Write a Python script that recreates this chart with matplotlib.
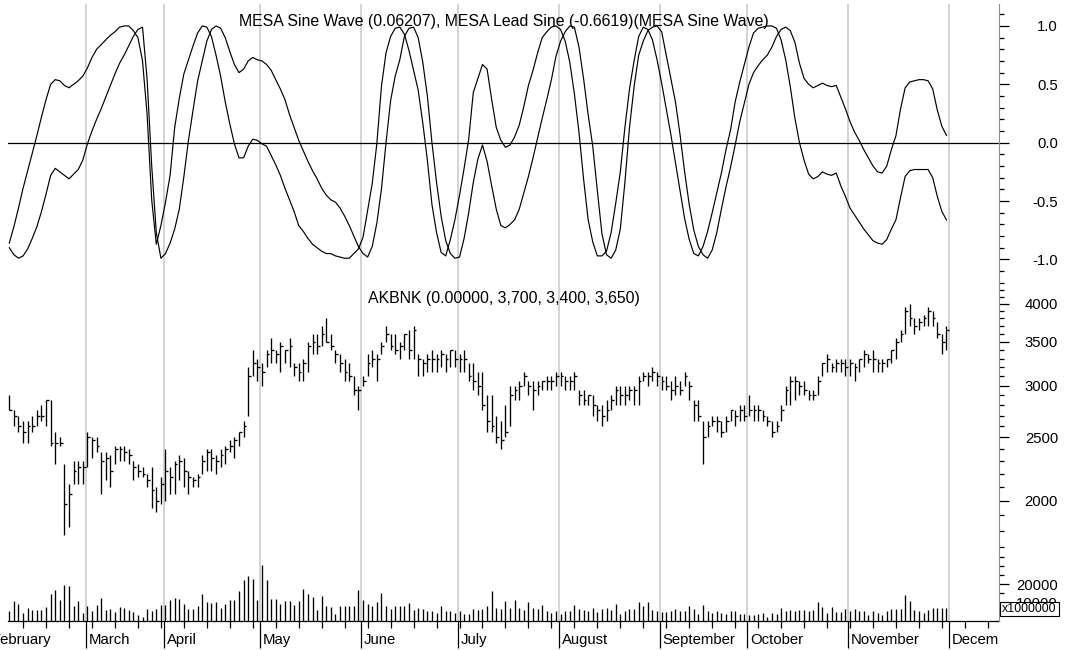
"""AKBNK daily bars with MESA sine wave / lead sine and volume, Feb-Nov."""

import matplotlib

matplotlib.use("Agg")
import matplotlib.pyplot as plt
from matplotlib.patches import Rectangle
from matplotlib.ticker import FixedFormatter, FixedLocator, NullFormatter
from matplotlib.transforms import Bbox, TransformedBbox
import numpy as np

plt.rcParams["font.family"] = ["Liberation Sans", "DejaVu Sans"]

# ---------------------------------------------------------------- data
TICKER = "AKBNK"
month_names = ["February", "March", "April", "May", "June", "July", "August",
               "September", "October", "November", "December"]
# index of the first bar of each month (February is partial, December empty)
month_first_bar = [0, 17, 34, 55, 77, 98, 120, 142, 161, 183, 205]

mesa_sine = [
    -0.90, -0.96, -0.99, -0.97, -0.91, -0.82, -0.72, -0.59, -0.44, -0.28,
    -0.22, -0.25, -0.28, -0.31, -0.27, -0.23, -0.15, -0.01, 0.10, 0.20,
    0.29, 0.39, 0.49, 0.59, 0.68, 0.75, 0.83, 0.91, 0.97, 0.99,
    0.54, -0.20, -0.77, -0.99, -0.95, -0.86, -0.74, -0.57, -0.29, 0.02,
    0.28, 0.53, 0.70, 0.87, 0.97, 1.00, 0.98, 0.90, 0.78, 0.67,
    0.60, 0.63, 0.70, 0.73, 0.71, 0.70, 0.67, 0.62, 0.54, 0.46,
    0.37, 0.24, 0.13, 0.02, -0.07, -0.16, -0.24, -0.31, -0.39, -0.45,
    -0.49, -0.51, -0.56, -0.63, -0.71, -0.80, -0.89, -0.95, -0.98, -0.89,
    -0.69, -0.40, 0.00, 0.36, 0.57, 0.71, 0.91, 0.98, 0.99, 0.90,
    0.69, 0.40, 0.00, -0.34, -0.63, -0.84, -0.95, -0.99, -0.98, -0.82,
    -0.60, -0.34, -0.14, -0.02, -0.16, -0.37, -0.57, -0.71, -0.73, -0.70,
    -0.66, -0.57, -0.43, -0.29, -0.13, 0.04, 0.21, 0.37, 0.54, 0.74,
    0.87, 0.95, 1.00, 0.99, 0.82, 0.55, 0.24, -0.03, -0.41, -0.78,
    -0.96, -0.99, -0.92, -0.74, -0.34, 0.13, 0.48, 0.75, 0.87, 0.96,
    0.99, 1.00, 0.95, 0.75, 0.55, 0.35, 0.07, -0.25, -0.53, -0.75,
    -0.89, -0.96, -0.99, -0.92, -0.77, -0.57, -0.38, -0.21, -0.02, 0.18,
    0.34, 0.50, 0.60, 0.66, 0.71, 0.75, 0.82, 0.91, 0.97, 0.99,
    0.96, 0.86, 0.68, 0.55, 0.50, 0.47, 0.49, 0.51, 0.49, 0.48,
    0.49, 0.39, 0.29, 0.18, 0.09, 0.02, -0.06, -0.13, -0.20, -0.25,
    -0.26, -0.20, -0.06, 0.06, 0.29, 0.47, 0.52, 0.53, 0.54, 0.54,
    0.53, 0.46, 0.28, 0.14, 0.06207,
]
mesa_lead = [
    -0.86, -0.72, -0.56, -0.39, -0.24, -0.09, 0.06, 0.22, 0.37, 0.50,
    0.54, 0.53, 0.49, 0.47, 0.50, 0.53, 0.57, 0.64, 0.73, 0.80,
    0.84, 0.88, 0.92, 0.95, 0.99, 1.00, 1.00, 0.96, 0.90, 0.70,
    0.24, -0.49, -0.87, -0.71, -0.51, -0.28, 0.13, 0.38, 0.59, 0.71,
    0.83, 0.94, 1.00, 0.99, 0.91, 0.75, 0.57, 0.35, 0.16, -0.01,
    -0.13, -0.13, -0.03, 0.03, 0.02, -0.01, -0.03, -0.11, -0.19, -0.28,
    -0.39, -0.49, -0.59, -0.71, -0.76, -0.82, -0.87, -0.90, -0.93, -0.95,
    -0.95, -0.97, -0.98, -0.99, -0.99, -0.95, -0.91, -0.81, -0.58, -0.35,
    -0.01, 0.48, 0.77, 0.91, 0.98, 0.99, 0.93, 0.79, 0.62, 0.45,
    0.17, -0.15, -0.53, -0.77, -0.94, -0.97, -0.83, -0.66, -0.45, -0.22,
    0.03, 0.43, 0.55, 0.67, 0.63, 0.37, 0.13, 0.02, -0.04, -0.02,
    0.05, 0.15, 0.31, 0.49, 0.62, 0.77, 0.90, 0.95, 0.99, 1.00,
    0.97, 0.87, 0.69, 0.42, 0.09, -0.31, -0.66, -0.85, -0.97, -0.97,
    -0.93, -0.77, -0.52, -0.25, 0.13, 0.46, 0.70, 0.91, 0.99, 0.97,
    0.88, 0.71, 0.51, 0.29, 0.07, -0.17, -0.41, -0.65, -0.83, -0.95,
    -0.97, -0.89, -0.76, -0.60, -0.43, -0.26, -0.06, 0.11, 0.35, 0.52,
    0.67, 0.82, 0.94, 0.98, 0.99, 1.00, 1.00, 0.98, 0.88, 0.71,
    0.48, 0.21, 0.00, -0.15, -0.27, -0.31, -0.29, -0.25, -0.27, -0.28,
    -0.26, -0.37, -0.46, -0.56, -0.62, -0.68, -0.74, -0.79, -0.84, -0.86,
    -0.87, -0.83, -0.74, -0.66, -0.47, -0.29, -0.24, -0.23, -0.23, -0.23,
    -0.23, -0.30, -0.46, -0.59, -0.6619,
]

# daily high / low / close, one row per month (Feb ... Nov)
high = [
    2900, 2750, 2700, 2650, 2650, 2700, 2750, 2800, 2850, 2850, 2550, 2500, 2275, 2125, 2300, 2300, 2300,
    2550, 2500, 2500, 2375, 2375, 2350, 2425, 2425, 2425, 2400, 2300, 2275, 2250, 2200, 2250, 2100, 2175,
    2400, 2250, 2300, 2350, 2325, 2225, 2175, 2200, 2350, 2400, 2400, 2350, 2400, 2425, 2475, 2500, 2550,
    2650, 3200, 3400, 3300,
    3250, 3400, 3550, 3400, 3500, 3400, 3550, 3250, 3250, 3300, 3500, 3600, 3600, 3700, 3800, 3600, 3400,
    3350, 3300, 3250, 3100, 3000,
    3100, 3350, 3400, 3350, 3500, 3700, 3600, 3600, 3500, 3600, 3650, 3700, 3350, 3300, 3350, 3400, 3350,
    3400, 3350, 3400, 3400,
    3350, 3400, 3250, 3250, 3150, 3150, 2900, 2900, 2700, 2650, 2800, 3000, 3000, 3050, 3150, 3050, 3050,
    3050, 3050, 3100, 3100, 3150,
    3150, 3100, 3100, 3150, 2950, 2950, 2900, 2900, 2800, 2800, 2850, 2900, 3000, 3000, 3000, 3000, 3000,
    3100, 3150, 3150, 3200, 3150,
    3100, 3100, 3050, 3100, 3050, 3150, 3050, 2850, 2850, 2650, 2650, 2700, 2700, 2650, 2700, 2750, 2750,
    2800, 2800,
    2900, 2800, 2800, 2750, 2700, 2650, 2650, 2800, 3000, 3100, 3100, 3050, 3050, 2950, 2950, 3100, 3250,
    3350, 3250, 3300, 3300, 3300,
    3300, 3250, 3300, 3400, 3350, 3400, 3300, 3300, 3300, 3400, 3550, 3650, 3950, 4000, 3800, 3800, 3850,
    3950, 3900, 3750, 3600, 3700,
]
low = [
    2750, 2600, 2550, 2450, 2450, 2550, 2600, 2650, 2600, 2425, 2275, 2425, 1775, 1825, 2125, 2125, 2125,
    2250, 2325, 2375, 2050, 2150, 2100, 2275, 2300, 2300, 2275, 2150, 2175, 2175, 2100, 1950, 1925, 1975,
    2000, 2050, 2050, 2150, 2100, 2050, 2100, 2100, 2200, 2225, 2225, 2200, 2250, 2275, 2375, 2325, 2425,
    2500, 2700, 3100, 3050,
    3000, 3200, 3250, 3250, 3150, 3250, 3200, 3100, 3050, 3050, 3150, 3350, 3350, 3450, 3500, 3400, 3250,
    3150, 3050, 3050, 2900, 2750,
    3000, 3100, 3200, 3050, 3350, 3500, 3400, 3350, 3300, 3400, 3300, 3300, 3100, 3100, 3150, 3150, 3150,
    3200, 3150, 3200, 3200,
    3150, 3150, 3050, 2950, 2900, 2750, 2550, 2550, 2450, 2400, 2500, 2600, 2850, 2850, 3000, 2900, 2750,
    2900, 2950, 2950, 2950, 3000,
    3000, 2950, 2950, 2950, 2800, 2800, 2800, 2700, 2650, 2600, 2650, 2750, 2800, 2800, 2800, 2850, 2800,
    2800, 3050, 3000, 3050, 3000,
    2950, 2950, 2850, 2900, 2900, 3000, 2850, 2650, 2650, 2275, 2500, 2600, 2550, 2500, 2550, 2650, 2600,
    2650, 2650,
    2700, 2650, 2650, 2650, 2600, 2500, 2550, 2650, 2800, 2800, 2850, 2900, 2900, 2850, 2850, 2900, 3100,
    3150, 3150, 3150, 3150, 3100,
    3100, 3050, 3150, 3200, 3250, 3150, 3150, 3150, 3200, 3250, 3300, 3500, 3600, 3700, 3600, 3650, 3700,
    3700, 3700, 3550, 3350, 3400,
]
close = [
    2750, 2700, 2600, 2550, 2600, 2600, 2700, 2700, 2850, 2450, 2450, 2450, 1975, 2050, 2225, 2250, 2250,
    2500, 2475, 2425, 2300, 2325, 2225, 2400, 2400, 2375, 2350, 2250, 2225, 2200, 2150, 2075, 2000, 2125,
    2225, 2175, 2275, 2300, 2225, 2175, 2150, 2175, 2300, 2375, 2325, 2300, 2350, 2400, 2425, 2475, 2550,
    2600, 3100, 3250, 3200,
    3150, 3350, 3400, 3350, 3450, 3400, 3450, 3200, 3150, 3250, 3450, 3500, 3450, 3600, 3500, 3450, 3350,
    3250, 3150, 3100, 2950, 2950,
    3050, 3250, 3300, 3300, 3450, 3600, 3450, 3400, 3450, 3600, 3400, 3650, 3300, 3250, 3300, 3300, 3300,
    3350, 3300, 3400, 3300,
    3300, 3300, 3100, 3050, 3000, 2800, 2650, 2600, 2500, 2475, 2550, 2900, 2950, 3000, 3100, 3000, 2950,
    3000, 3050, 3050, 3050, 3100,
    3100, 3050, 3050, 3100, 2900, 2850, 2900, 2800, 2750, 2700, 2750, 2850, 2950, 2900, 2900, 2950, 2950,
    3050, 3100, 3100, 3150, 3100,
    3050, 3000, 2950, 3000, 2950, 3100, 3000, 2800, 2700, 2500, 2600, 2650, 2650, 2550, 2650, 2750, 2700,
    2750, 2700,
    2750, 2750, 2750, 2700, 2650, 2550, 2600, 2750, 2950, 3050, 3050, 3000, 2950, 2900, 2900, 3050, 3250,
    3300, 3200, 3250, 3250, 3200,
    3250, 3200, 3300, 3350, 3300, 3300, 3250, 3250, 3300, 3400, 3500, 3600, 3900, 3800, 3700, 3750, 3800,
    3900, 3800, 3600, 3500, 3650,
]
# volume in units of 1,000,000 shares
volume = [
    5200, 10800, 9500, 4300, 7100, 6200, 6000, 5800, 7500, 14500, 17000, 11700, 19800, 19200, 8400, 10800, 4300,
    8400, 5600, 8600, 12700, 6200, 6500, 4800, 7500, 7100, 6200, 5000, 3400, 2000, 6500, 5600, 6500, 8900,
    8900, 11200, 12700, 12100, 9500, 6500, 6500, 8000, 14500, 10300, 9900, 10300, 7000, 9500, 11700, 11700,
    16400, 22400, 24400, 22900, 11700,
    30400, 22400, 12100, 12100, 9300, 10800, 10800, 8900, 10800, 17700, 14500, 13200, 6200, 13600, 8000, 7600,
    3700, 8000, 8000, 8400, 8400, 17000,
    11200, 9500, 8400, 10400, 15500, 8400, 6500, 8000, 8400, 8000, 9900, 6000, 7100, 6500, 5200, 5200, 4300,
    8400, 5600, 5600, 4300,
    5200, 3700, 3700, 6500, 6200, 6500, 8400, 16400, 7100, 6500, 10800, 7100, 11200, 7100, 6000, 10300, 7100,
    6500, 8500, 5600, 4300, 5300,
    3800, 5600, 5300, 8500, 6600, 6200, 5300, 7200, 4700, 6600, 7200, 6200, 9000, 3800, 5300, 6600, 6600,
    10500, 8100, 10400, 6200, 5300,
    4700, 4700, 5600, 6600, 5300, 5600, 8100, 6600, 3800, 8500, 5300, 4300, 5600, 4500, 3800, 5300, 5300,
    3800, 3800,
    3400, 3400, 3800, 4300, 2400, 4300, 3800, 7200, 5300, 5800, 5600, 5800, 6200, 5600, 6200, 10400, 7700,
    4300, 7700, 5000, 4700, 6600,
    5600, 6600, 5600, 5300, 3400, 5600, 4500, 3400, 5600, 6600, 6600, 6600, 14100, 10900, 6200, 5600, 4300,
    6200, 7200, 7200, 7200, 7200,
]

sine_ticks = [-1.0, -0.5, 0.0, 0.5, 1.0]
price_ticks = [2000, 2500, 3000, 3500, 4000]
volume_ticks = [10000, 20000]

# ---------------------------------------------------------------- layout
W, H = 1076, 650
X_LEFT, X_RIGHT = -0.3, 215.5
GRID = "#c8c8c8"
LW = 0.95

fig = plt.figure(figsize=(W / 100, H / 100), dpi=100)
fig.patch.set_facecolor("white")


def band(top, bottom):
    """Axes spanning the plot width between two pixel rows."""
    return fig.add_axes([7.92 / W, 1 - bottom / H, 991.4 / W, (bottom - top) / H])


ax_sine = band(4, 288)
ax_price = band(288, 556)
ax_vol = band(556, 621)
ax_date = band(621, 650)

x = np.arange(len(close))
month_lines = np.array(month_first_bar[1:]) - 0.4

for ax in (ax_sine, ax_price, ax_vol):
    ax.set_xlim(X_LEFT, X_RIGHT)
    ax.set_xticks([])
    ax.patch.set_alpha(0)
    for side in ("left", "top", "bottom"):
        ax.spines[side].set_visible(False)
    ax.spines["right"].set_color("#909090")
    ax.spines["right"].set_linewidth(0.8)
    ax.yaxis.tick_right()
    ax.tick_params(axis="y", which="major", length=7.2, width=0.9, pad=35.1,
                   labelsize=10.7, colors="black")
    ax.tick_params(axis="y", which="minor", length=3.6, width=0.9, colors="black")
    for pos in month_lines:
        ax.axvline(pos, color=GRID, lw=1.1, zorder=0)

# MESA sine wave panel
ax_sine.plot(x, mesa_sine, color="black", lw=0.85)
ax_sine.plot(x, mesa_lead, color="black", lw=0.85)
ax_sine.axhline(0, color="black", lw=0.9)
ax_sine.set_ylim(-1.245, 1.188)
ax_sine.yaxis.set_major_locator(FixedLocator(sine_ticks))
ax_sine.yaxis.set_major_formatter(FixedFormatter([f"{t:.1f}" for t in sine_ticks]))
ax_sine.yaxis.set_minor_locator(FixedLocator(np.round(np.arange(-1.2, 1.15, 0.1), 1)))

# price bars (high-low line with close tick), log scale
ax_price.set_yscale("log")
ax_price.set_ylim(1647, 4230)
ax_price.vlines(x, low, high, color="black", lw=LW)
ax_price.hlines(close, x, x + 0.6, color="black", lw=LW)
ax_price.yaxis.set_major_locator(FixedLocator(price_ticks))
ax_price.yaxis.set_major_formatter(FixedFormatter([str(t) for t in price_ticks]))
ax_price.yaxis.set_minor_locator(FixedLocator(np.arange(1700, 4300, 100)))
ax_price.yaxis.set_minor_formatter(NullFormatter())

# volume histogram
ax_vol.vlines(x, 0, volume, color="black", lw=LW)
ax_vol.axhline(0, color="black", lw=0.9, clip_on=False)
ax_vol.set_ylim(0, 35400)
ax_vol.yaxis.set_major_locator(FixedLocator(volume_ticks))
ax_vol.yaxis.set_major_formatter(FixedFormatter([str(t) for t in volume_ticks]))
ax_vol.yaxis.set_minor_locator(FixedLocator([5000, 15000, 25000, 30000, 35000]))

for ax in (ax_sine, ax_price, ax_vol):
    for lab in ax.yaxis.get_majorticklabels():
        lab.set_horizontalalignment("right")

# date strip: month separators, weekly ticks and month names
ax_date.set_xlim(X_LEFT, X_RIGHT)
ax_date.set_ylim(0, 1)
ax_date.axis("off")
ax_date.vlines(month_lines, 0.07, 1, color="black", lw=0.9)
ax_date.vlines(np.arange(3, 216, 5), 0.76, 1, color="black", lw=0.9)
label_clip = TransformedBbox(Bbox([[0, 0], [999.3 / W, 1]]), fig.transFigure)
label_x = [-3.8] + list(month_lines + 0.65)
for name, pos in zip(month_names, label_x):
    t = ax_date.text(pos, 0.19, name, fontsize=10.7, va="baseline", ha="left")
    t.set_clip_box(label_clip)
    t.set_clip_on(True)

# panel captions
fig.text(503.6 / W, 1 - 26 / H,
         f"MESA Sine Wave ({mesa_sine[-1]:.5f}), MESA Lead Sine ({mesa_lead[-1]:.4f})"
         "(MESA Sine Wave)",
         ha="center", va="baseline", fontsize=11.4)
fig.text(503.6 / W, 1 - 303 / H,
         f"{TICKER} ({0:.5f}, {high[-1]:,}, {low[-1]:,}, {close[-1]:,})",
         ha="center", va="baseline", fontsize=11.4)

# volume multiplier badge
fig.add_artist(Rectangle((1000 / W, 1 - 615.7 / H), 59 / W, 14 / H,
                         transform=fig.transFigure, facecolor="white",
                         edgecolor="black", lw=0.8, zorder=2))
fig.text(1029.5 / W, 1 - 608.7 / H, "x1000000", ha="center", va="center",
         fontsize=8.9, zorder=3)

fig.savefig("out.png", dpi=100)
